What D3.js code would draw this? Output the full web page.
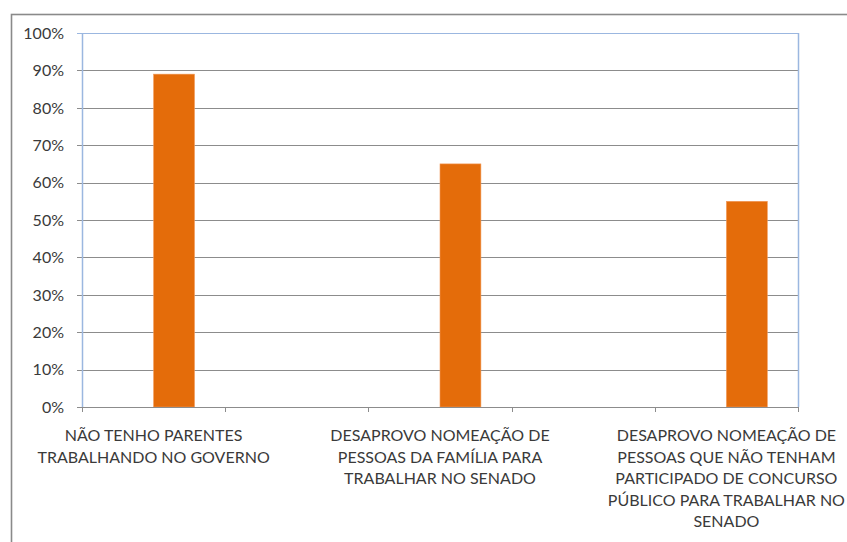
<!DOCTYPE html>
<html>
<head>
<meta charset="utf-8">
<script src="https://cdn.jsdelivr.net/npm/d3@7"></script>
<style>
  body { margin: 0; background: #fff; }
  svg text { font-family: Lato, "Open Sans", sans-serif; fill: #3a3a3a; }
</style>
</head>
<body>
<div id="chart"></div>
<script>
// categories (empty slots keep the spacing of the original sheet)
const categories = [
  'NÃO TENHO PARENTES TRABALHANDO NO GOVERNO',
  ' ',
  'DESAPROVO NOMEAÇÃO DE PESSOAS DA FAMÍLIA PARA TRABALHAR NO SENADO',
  '  ',
  'DESAPROVO NOMEAÇÃO DE PESSOAS QUE NÃO TENHAM PARTICIPADO DE CONCURSO PÚBLICO PARA TRABALHAR NO SENADO'
];
const labelLines = [
  ['NÃO TENHO PARENTES', 'TRABALHANDO NO GOVERNO'],
  [],
  ['DESAPROVO NOMEAÇÃO DE', 'PESSOAS DA FAMÍLIA PARA', 'TRABALHAR NO SENADO'],
  [],
  ['DESAPROVO NOMEAÇÃO DE', 'PESSOAS QUE NÃO TENHAM', 'PARTICIPADO DE CONCURSO', 'PÚBLICO PARA TRABALHAR NO', 'SENADO']
];
const seriesNames = ['s1', 's2'];
const series1 = [null, null, null, null, null];
const series2 = [0.89, null, 0.65, null, 0.55];
const yTicks = [0, 0.1, 0.2, 0.3, 0.4, 0.5, 0.6, 0.7, 0.8, 0.9, 1];

const width = 847;
const height = 542;
const plot = {left: 82, right: 798, top: 33, bottom: 407};

const svg = d3.select('#chart')
  .append('svg')
  .attr('width', width)
  .attr('height', height);

// outer chart border (runs off the picture on the right and bottom)
svg.append('rect')
  .attr('x', 11.5)
  .attr('y', 14.5)
  .attr('width', 900)
  .attr('height', 600)
  .attr('fill', 'none')
  .attr('stroke', '#8a8a8a')
  .attr('stroke-width', 1.6);

const x = d3.scaleBand().domain(categories).range([plot.left, plot.right]);
const xInner = d3.scaleBand().domain(seriesNames).range([0, x.bandwidth()])
  .paddingInner(0).paddingOuter(0.75);
const y = d3.scaleLinear().domain([0, 1]).range([plot.bottom, plot.top]);

// gridlines
svg.append('g')
  .selectAll('line')
  .data(yTicks)
  .enter()
  .append('line')
  .attr('x1', plot.left - 5)
  .attr('x2', plot.right)
  .attr('y1', (d) => Math.round(y(d)) + 0.5)
  .attr('y2', (d) => Math.round(y(d)) + 0.5)
  .attr('stroke', (d) => d === 1 ? '#9bb7e0' : '#8c8c8c')
  .attr('stroke-width', 1);

// y labels
svg.append('g')
  .selectAll('text')
  .data(yTicks)
  .enter()
  .append('text')
  .attr('x', 64)
  .attr('y', (d) => y(d))
  .attr('dy', '0.36em')
  .attr('text-anchor', 'end')
  .style('font-size', '16px')
  .text(d3.format('.0%'));

// bars
const rows = categories.map((c, i) => ({cat: c, values: [
  {name: 's1', value: series1[i]},
  {name: 's2', value: series2[i]}
]}));

svg.append('g')
  .selectAll('g')
  .data(rows)
  .enter()
  .append('g')
  .attr('transform', (d) => 'translate(' + x(d.cat) + ',0)')
  .selectAll('rect')
  .data((d) => d.values.filter((v) => v.value !== null))
  .enter()
  .append('rect')
  .attr('x', (d) => xInner(d.name))
  .attr('y', (d) => y(d.value))
  .attr('width', xInner.bandwidth())
  .attr('height', (d) => y(0) - y(d.value))
  .attr('fill', '#e46c0a')
  .attr('stroke', '#f29a5a')
  .attr('stroke-width', 0.6);

// x axis line and ticks
svg.append('line')
  .attr('x1', plot.left)
  .attr('x2', plot.right)
  .attr('y1', plot.bottom + 0.5)
  .attr('y2', plot.bottom + 0.5)
  .attr('stroke', '#8c8c8c');

const boundaries = categories.map((c) => x(c)).concat([plot.right]);
svg.append('g')
  .selectAll('line')
  .data(boundaries)
  .enter()
  .append('line')
  .attr('x1', (d) => Math.round(d) + 0.5)
  .attr('x2', (d) => Math.round(d) + 0.5)
  .attr('y1', plot.bottom)
  .attr('y2', plot.bottom + 5)
  .attr('stroke', '#8c8c8c');

// plot area border (left axis and right side, blue)
svg.append('line')
  .attr('x1', plot.left + 0.5).attr('x2', plot.left + 0.5)
  .attr('y1', plot.top).attr('y2', plot.bottom)
  .attr('stroke', '#9bb7e0').attr('stroke-width', 1.5);
svg.append('line')
  .attr('x1', plot.right + 0.5).attr('x2', plot.right + 0.5)
  .attr('y1', plot.top).attr('y2', plot.bottom)
  .attr('stroke', '#9bb7e0').attr('stroke-width', 1.5);

// category labels
const labels = svg.append('g')
  .selectAll('text')
  .data(categories)
  .enter()
  .append('text')
  .attr('text-anchor', 'middle')
  .style('font-size', '16px');

labels.selectAll('tspan')
  .data((d, i) => labelLines[i].map((t) => ({t: t, cat: d})))
  .enter()
  .append('tspan')
  .attr('x', (d) => x(d.cat) + x.bandwidth() / 2)
  .attr('y', (d, j) => 441 + j * 21.6)
  .text((d) => d.t);
</script>
</body>
</html>
